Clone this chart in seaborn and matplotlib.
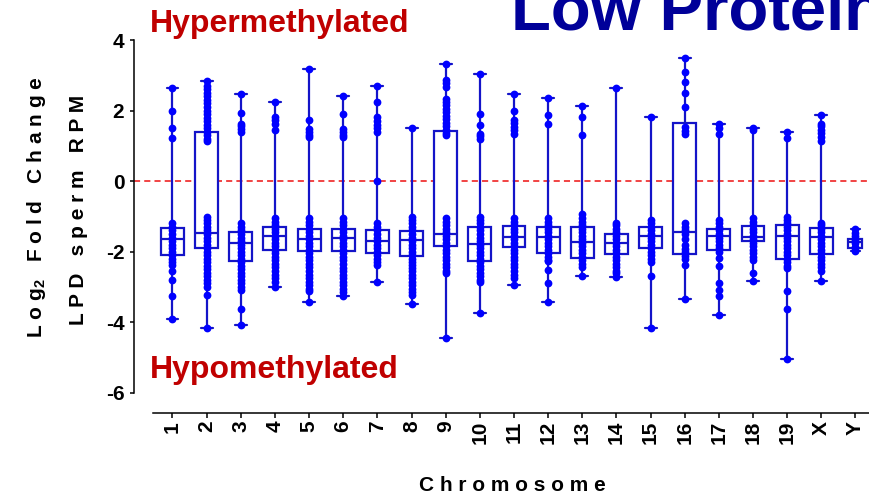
import matplotlib
matplotlib.use("Agg")
import matplotlib.pyplot as plt
import numpy as np
import pandas as pd
import seaborn as sns

# ---------------- data ----------------
chromosomes = ["1", "2", "3", "4", "5", "6", "7", "8", "9", "10", "11",
               "12", "13", "14", "15", "16", "17", "18", "19", "X", "Y"]

whisker_low = [-3.91, -4.18, -4.09, -2.99, -3.42, -3.25, -2.85, -3.49, -4.45, -3.73, -2.96,
               -3.42, -2.70, -2.73, -4.16, -3.34, -3.80, -2.83, -5.04, -2.83, -1.99]
box_q1 = [-2.10, -1.90, -2.28, -1.96, -1.97, -1.97, -2.04, -2.13, -1.83, -2.26, -1.87,
          -2.04, -2.18, -2.06, -1.90, -2.06, -1.96, -1.70, -2.20, -2.06, -1.89]
box_median = [-1.64, -1.47, -1.77, -1.55, -1.65, -1.62, -1.69, -1.68, -1.49, -1.78, -1.58,
              -1.58, -1.72, -1.77, -1.55, -1.45, -1.56, -1.58, -1.56, -1.59, -1.72]
box_q3 = [-1.32, 1.38, -1.45, -1.30, -1.35, -1.35, -1.39, -1.42, 1.42, -1.29, -1.28,
          -1.30, -1.30, -1.50, -1.30, 1.66, -1.37, -1.28, -1.25, -1.34, -1.64]
whisker_high = [2.65, 2.84, 2.46, 2.23, 3.17, 2.41, 2.70, 1.50, 3.32, 3.04, 2.46,
                2.36, 2.12, 2.65, 1.82, 3.49, 1.63, 1.51, 1.39, 1.87, -1.37]

pts_1 = [2.65, 1.99, 1.50, 1.23, -1.20, -1.30, -1.40, -1.50, -1.60, -1.70, -1.80, -1.90,
         -2.00, -2.10, -2.20, -2.30, -2.37, -2.56, -2.80, -3.25, -3.91]
pts_2 = [2.84, 2.70, 2.60, 2.50, 2.40, 2.30, 2.20, 2.10, 2.00, 1.90, 1.80, 1.70, 1.60,
         1.50, 1.40, 1.30, 1.20, 1.13, -1.02, -1.10, -1.20, -1.30, -1.40, -1.50, -1.60,
         -1.70, -1.80, -1.90, -2.00, -2.10, -2.20, -2.30, -2.40, -2.50, -2.60, -2.70,
         -2.80, -2.90, -2.99, -3.23, -4.18]
pts_3 = [2.46, 1.93, 1.63, 1.55, 1.47, 1.39, -1.20, -1.30, -1.40, -1.50, -1.60, -1.70,
         -1.80, -1.90, -2.00, -2.10, -2.20, -2.30, -2.40, -2.50, -2.60, -2.70, -2.80,
         -2.90, -3.00, -3.09, -3.63, -4.09]
pts_4 = [2.23, 1.82, 1.72, 1.62, 1.44, -1.06, -1.15, -1.25, -1.35, -1.45, -1.55, -1.65,
         -1.75, -1.85, -1.95, -2.05, -2.15, -2.25, -2.35, -2.45, -2.55, -2.65, -2.75,
         -2.85, -2.99]
pts_5 = [3.17, 1.74, 1.49, 1.40, 1.32, 1.25, -1.04, -1.15, -1.25, -1.35, -1.45, -1.55,
         -1.65, -1.75, -1.85, -1.95, -2.05, -2.15, -2.25, -2.35, -2.45, -2.55, -2.65,
         -2.75, -2.85, -2.95, -3.05, -3.13, -3.42]
pts_6 = [2.41, 1.89, 1.49, 1.40, 1.30, 1.25, -1.04, -1.15, -1.25, -1.35, -1.45, -1.55,
         -1.65, -1.75, -1.85, -1.95, -2.05, -2.15, -2.25, -2.35, -2.47, -2.55, -2.65,
         -2.75, -2.85, -2.95, -3.05, -3.15, -3.25]
pts_7 = [2.70, 2.25, 1.82, 1.70, 1.60, 1.50, 1.39, 0.00, -1.20, -1.30, -1.40, -1.50,
         -1.60, -1.70, -1.80, -1.90, -2.00, -2.10, -2.20, -2.30, -2.37, -2.85]
pts_8 = [1.50, -1.02, -1.10, -1.20, -1.30, -1.40, -1.50, -1.60, -1.70, -1.80, -1.90,
         -2.00, -2.10, -2.20, -2.30, -2.37, -2.47, -2.55, -2.65, -2.75, -2.85, -2.95,
         -3.05, -3.15, -3.23, -3.49]
pts_9 = [3.32, 2.87, 2.78, 2.68, 2.34, 2.25, 2.15, 2.05, 1.95, 1.85, 1.75, 1.65, 1.55,
         1.45, 1.35, 1.30, -1.04, -1.15, -1.25, -1.35, -1.45, -1.55, -1.65, -1.75,
         -1.85, -1.95, -2.05, -2.15, -2.25, -2.35, -2.45, -2.55, -2.61, -4.45]
pts_10 = [3.04, 1.91, 1.58, 1.34, 1.27, 1.20, -1.02, -1.10, -1.20, -1.30, -1.40, -1.50,
          -1.60, -1.70, -1.80, -1.90, -2.00, -2.10, -2.20, -2.30, -2.40, -2.50, -2.60,
          -2.70, -2.80, -2.85, -3.73]
pts_11 = [2.46, 1.98, 1.74, 1.64, 1.54, 1.44, 1.34, -1.06, -1.15, -1.25, -1.35, -1.45,
          -1.55, -1.65, -1.75, -1.85, -1.95, -2.05, -2.15, -2.25, -2.35, -2.45, -2.55,
          -2.65, -2.75, -2.96]
pts_12 = [2.36, 1.87, 1.61, -1.06, -1.15, -1.25, -1.35, -1.45, -1.55, -1.65, -1.75,
          -1.85, -1.95, -2.05, -2.15, -2.25, -2.28, -2.53, -2.88, -3.42]
pts_13 = [2.12, 1.82, 1.30, -0.94, -1.05, -1.15, -1.25, -1.35, -1.45, -1.55, -1.65,
          -1.75, -1.85, -1.95, -2.05, -2.15, -2.25, -2.35, -2.45, -2.70]
pts_14 = [2.65, -1.18, -1.25, -1.35, -1.45, -1.55, -1.65, -1.75, -1.85, -1.95, -2.05,
          -2.15, -2.25, -2.35, -2.45, -2.55, -2.61, -2.73]
pts_15 = [1.82, -1.10, -1.20, -1.30, -1.40, -1.50, -1.60, -1.70, -1.80, -1.90, -2.00,
          -2.10, -2.20, -2.30, -2.68, -4.16]
pts_16 = [3.49, 3.08, 2.80, 2.50, 2.09, 1.53, 1.43, 1.34, -1.20, -1.30, -1.40, -1.50,
          -1.63, -1.82, -1.92, -2.02, -2.12, -2.22, -2.37, -3.34]
pts_17 = [1.63, 1.50, 1.34, -1.09, -1.20, -1.30, -1.40, -1.50, -1.60, -1.70, -1.80,
          -1.90, -2.00, -2.18, -2.42, -2.90, -3.09, -3.27, -3.80]
pts_18 = [1.51, 1.44, -1.04, -1.15, -1.25, -1.35, -1.45, -1.55, -1.65, -1.75, -1.85,
          -1.95, -2.05, -2.15, -2.23, -2.61, -2.83]
pts_19 = [1.39, 1.22, -1.02, -1.10, -1.20, -1.30, -1.40, -1.50, -1.60, -1.70, -1.80,
          -1.90, -2.00, -2.10, -2.20, -2.30, -2.40, -2.47, -3.13, -3.63, -5.04]
pts_X = [1.87, 1.63, 1.55, 1.45, 1.35, 1.25, 1.15, -1.18, -1.25, -1.35, -1.45, -1.55,
         -1.65, -1.75, -1.85, -1.95, -2.05, -2.15, -2.25, -2.35, -2.45, -2.56, -2.83]
pts_Y = [-1.37, -1.47, -1.57, -1.67, -1.77, -1.87, -1.95, -1.99]

points = [pts_1, pts_2, pts_3, pts_4, pts_5, pts_6, pts_7, pts_8, pts_9, pts_10, pts_11,
          pts_12, pts_13, pts_14, pts_15, pts_16, pts_17, pts_18, pts_19, pts_X, pts_Y]

# ---------------- styling ----------------
sns.set_style("ticks")
plt.rcParams["font.family"] = ["Liberation Sans", "DejaVu Sans"]
plt.rcParams["font.weight"] = "bold"
plt.rcParams["text.color"] = "black"
plt.rcParams["axes.labelcolor"] = "black"
plt.rcParams["xtick.color"] = "black"
plt.rcParams["ytick.color"] = "black"
plt.rcParams["axes.edgecolor"] = "black"
plt.rcParams["mathtext.fontset"] = "custom"
plt.rcParams["mathtext.bf"] = "Liberation Sans:bold"
plt.rcParams["mathtext.rm"] = "Liberation Sans:bold"
plt.rcParams["mathtext.default"] = "bf"

LINE = "#1414C8"
DOT = "#0000FF"

W, H = 869, 497
fig = plt.figure(figsize=(W / 100, H / 100), dpi=100)
ax = fig.add_axes([134 / W, (H - 413) / H, (W - 134) / W, (413 - 40) / H])


def fx(x):
    return x / W


def fy(y):
    return 1 - y / H


# box table: quantile-preserving 7-value column per chromosome
box_rows = []
for c, lo, a, m, b, hi in zip(chromosomes, whisker_low, box_q1, box_median, box_q3, whisker_high):
    for v in (lo, a, a, m, b, b, hi):
        box_rows.append((c, v))
box_df = pd.DataFrame(box_rows, columns=["chrom", "value"])

pt_rows = [(c, v) for c, vals in zip(chromosomes, points) for v in vals]
pt_df = pd.DataFrame(pt_rows, columns=["chrom", "value"])

ax.axhline(0, color="#EE1111", lw=1.1, ls=(0, (4, 2.7)), zorder=0.5)

common = dict(x="chrom", y="value", order=chromosomes, whis=(0, 100), fill=True,
              color="white", saturation=1, linecolor=LINE, linewidth=1.6,
              showfliers=False, ax=ax)
sns.boxplot(data=box_df[box_df.chrom != "Y"], width=0.67, capwidths=0.35, **common)
sns.boxplot(data=box_df[box_df.chrom == "Y"], width=0.41, capwidths=0.25, **common)

sns.stripplot(data=pt_df, x="chrom", y="value", order=chromosomes, jitter=False,
              color=DOT, size=5.6, linewidth=0, zorder=3, ax=ax)

# axes
ax.set_ylim(-6.576, 4.0)
ax.set_xlim(-1.127, 20.396)
ax.set_yticks([-6, -4, -2, 0, 2, 4])
ax.set_yticklabels(["-6", "-4", "-2", "0", "2", "4"], fontsize=15, fontweight="bold",
                   color="black")
ax.set_xticks(range(len(chromosomes)))
ax.set_xticklabels(chromosomes, rotation=90, fontsize=15, fontweight="bold", color="black")
ax.set_xlabel("")
ax.set_ylabel("")
for s in ("top", "right"):
    ax.spines[s].set_visible(False)
ax.spines["left"].set_bounds(-6, 4)
ax.spines["bottom"].set_bounds(-0.56, 20.396)
ax.spines["left"].set_linewidth(1.1)
ax.spines["bottom"].set_linewidth(1.1)
ax.spines["left"].set_color("black")
ax.spines["bottom"].set_color("black")
ax.tick_params(axis="y", direction="out", length=3, width=1.1, pad=4, colors="black")
ax.tick_params(axis="x", direction="out", length=3.6, width=1.1, pad=2, colors="black")
ax.set_facecolor("white")

# labels
fig.text(fx(42), fy(207), "L o g" + r"$_{2}$" + "   F o l d   C h a n g e", rotation=90,
         rotation_mode="anchor", ha="center", va="baseline", fontsize=15,
         fontweight="bold", color="black")
fig.text(fx(84), fy(210), "L P D   s p e r m   R P M", rotation=90,
         rotation_mode="anchor", ha="center", va="baseline", fontsize=15,
         fontweight="bold", color="black")
fig.text(fx(512), fy(491), "C h r o m o s o m e", ha="center", va="baseline",
         fontsize=15, fontweight="bold", color="black")

fig.text(fx(150), fy(32), "Hypermethylated", color="#C00000", fontsize=23,
         fontweight="bold", ha="left", va="baseline")
fig.text(fx(150), fy(378), "Hypomethylated", color="#C00000", fontsize=23,
         fontweight="bold", ha="left", va="baseline")
fig.text(fx(511), fy(29), "Low Protein", color="#000099", fontsize=47,
         fontweight="bold", ha="left", va="baseline")

fig.savefig("out.png", dpi=100)
